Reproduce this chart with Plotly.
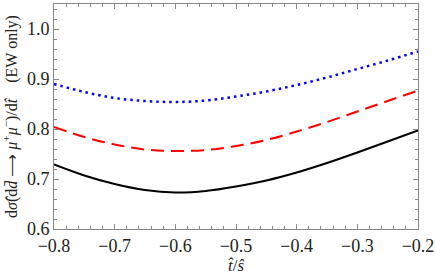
import plotly.graph_objects as go

x_vals = [-0.8, -0.75, -0.7, -0.65, -0.6, -0.55, -0.5, -0.45, -0.4, -0.35, -0.3, -0.25, -0.2]
black_vals = [0.729, 0.707, 0.690, 0.678, 0.673, 0.676, 0.685, 0.697, 0.713, 0.732, 0.753, 0.775, 0.797]
red_vals = [0.804, 0.784, 0.769, 0.759, 0.756, 0.758, 0.766, 0.778, 0.795, 0.814, 0.835, 0.856, 0.877]
blue_vals = [0.890, 0.874, 0.862, 0.856, 0.854, 0.857, 0.865, 0.875, 0.888, 0.903, 0.920, 0.937, 0.955]

x_ticks = [-0.8, -0.7, -0.6, -0.5, -0.4, -0.3, -0.2]
x_tick_text = ["\u22120.8", "\u22120.7", "\u22120.6", "\u22120.5", "\u22120.4", "\u22120.3", "\u22120.2"]
y_ticks = [0.6, 0.7, 0.8, 0.9, 1.0]
y_tick_text = ["0.6", "0.7", "0.8", "0.9", "1.0"]

font_family = "Liberation Serif"

fig = go.Figure()
fig.add_trace(go.Scatter(x=x_vals, y=black_vals, mode="lines",
                         line=dict(color="black", width=2, shape="spline", smoothing=1.0)))
fig.add_trace(go.Scatter(x=x_vals, y=red_vals, mode="lines",
                         line=dict(color="#ff0000", width=2, shape="spline", smoothing=1.0, dash="13px,7px")))
fig.add_trace(go.Scatter(x=x_vals, y=blue_vals, mode="lines",
                         line=dict(color="#0000ff", width=2.5, shape="spline", smoothing=1.0, dash="2.5px,4px")))

axis_common = dict(showline=True, linecolor="#888888", linewidth=1, mirror="allticks",
                   ticks="inside", ticklen=5, tickcolor="#888888", showgrid=False, zeroline=False,
                   automargin=False,
                   tickfont=dict(family=font_family, size=18, color="#222222"))

fig.update_xaxes(range=[-0.8, -0.2], tickvals=x_ticks, ticktext=x_tick_text,
                 minor=dict(dtick=0.02, tick0=-0.8, ticks="inside", ticklen=3, tickcolor="#888888"),
                 title=dict(text="<i>t\u0302</i>/<i>s\u0302</i>", font=dict(family=font_family, size=17, color="#222222"),
                            standoff=2),
                 **axis_common)
fig.update_yaxes(range=[0.6, 1.05], tickvals=y_ticks, ticktext=y_tick_text,
                 minor=dict(dtick=0.02, tick0=0.6, ticks="inside", ticklen=3, tickcolor="#888888"),
                 title=dict(text="d<i>\u03c3\u0302</i>(d<i>d\u0304</i> \u27f6 <i>\u03bc</i><sup>+</sup><i>\u03bc</i><sup>\u2212</sup>)/d<i>t\u0302</i>&nbsp;&nbsp;&nbsp;&nbsp;(EW only)",
                            font=dict(family=font_family, size=16, color="#222222"), standoff=8),
                 **axis_common)

fig.update_layout(width=435, height=279, margin=dict(l=54, r=17, t=4, b=50),
                  font=dict(family=font_family),
                  plot_bgcolor="white", paper_bgcolor="white", showlegend=False)

fig.write_html("out.html", config={"displayModeBar": False},
               post_script="document.body.style.margin='0';document.body.style.padding='0';")
